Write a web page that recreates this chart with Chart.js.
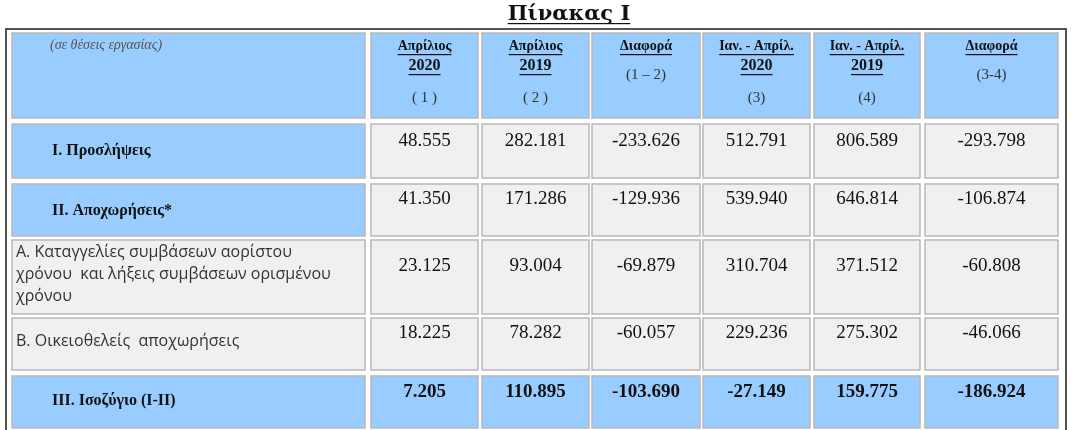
<!DOCTYPE html>
<html><head><meta charset="utf-8">
<script src="https://cdn.jsdelivr.net/npm/chart.js@4"></script>
<style>body{margin:0;background:#fff}#wrap{width:1080px;height:430px}</style>
</head><body><div id="wrap"><canvas id="myChart"></canvas></div>
<script>
var title = 'Πίνακας Ι';
var unitLabel = '(σε θέσεις εργασίας)';
var colHeads = [
    ['Απρίλιος', '2020', '( 1 )'],
    ['Απρίλιος', '2019', '( 2 )'],
    ['Διαφορά', '', '(1 – 2)'],
    ['Ιαν. - Απρίλ.', '2020', '(3)'],
    ['Ιαν. - Απρίλ.', '2019', '(4)'],
    ['Διαφορά', '', '(3-4)']
];
var rowLabels = [
    ['I. Προσλήψεις'],
    ['II. Αποχωρήσεις*'],
    ['Α. Καταγγελίες συμβάσεων αορίστου', 'χρόνου  και λήξεις συμβάσεων ορισμένου', 'χρόνου'],
    ['Β. Οικειοθελείς  αποχωρήσεις'],
    ['III. Ισοζύγιο (I-II)']
];
var apr2020 = ['48.555', '41.350', '23.125', '18.225', '7.205'];
var apr2019 = ['282.181', '171.286', '93.004', '78.282', '110.895'];
var diffApr = ['-233.626', '-129.936', '-69.879', '-60.057', '-103.690'];
var janApr2020 = ['512.791', '539.940', '310.704', '229.236', '-27.149'];
var janApr2019 = ['806.589', '646.814', '371.512', '275.302', '159.775'];
var diffJanApr = ['-293.798', '-106.874', '-60.808', '-46.066', '-186.924'];

// layout (in scale units)
var colEdges = [[12, 365], [371, 478], [482, 589], [592, 700], [703, 810], [814, 920], [925, 1058]];
var rowEdges = [[33, 118], [124, 178], [184, 236], [240, 314], [318, 370], [376, 428]];
var blue = '#99ccff', grey = '#f0f0f0';

var tablePlugin = {
    id: 'table',
    afterDraw: function (chart) {
        var ctx = chart.ctx, xs = chart.scales.x, ys = chart.scales.y;
        var cols = [apr2020, apr2019, diffApr, janApr2020, janApr2019, diffJanApr];
        function X(v) { return xs.getPixelForValue(v); }
        function Y(v) { return ys.getPixelForValue(v); }
        function text(s, x, y, font, color, align, underline) {
            ctx.font = font; ctx.fillStyle = color; ctx.textAlign = align || 'center'; ctx.textBaseline = 'middle';
            ctx.fillText(s, x, y);
            if (underline) {
                var w = ctx.measureText(s).width, x0 = align === 'left' ? x : x - w / 2;
                ctx.fillRect(x0, y + 8, w, 1.2);
            }
        }
        ctx.save();
        // outer frame
        ctx.strokeStyle = '#555'; ctx.lineWidth = 2;
        ctx.strokeRect(X(6), Y(29), X(1066) - X(6), Y(432) - Y(29));
        // cells
        rowEdges.forEach(function (r, ri) {
            colEdges.forEach(function (c, ci) {
                var fill = grey;
                if (ri === 0 || ri === 5 || (ci === 0 && ri < 3 && ri > 0)) fill = blue;
                ctx.fillStyle = fill;
                ctx.fillRect(X(c[0]), Y(r[0]), X(c[1]) - X(c[0]), Y(r[1]) - Y(r[0]));
                ctx.strokeStyle = '#b8b8b8'; ctx.lineWidth = 1.5;
                ctx.strokeRect(X(c[0]), Y(r[0]), X(c[1]) - X(c[0]), Y(r[1]) - Y(r[0]));
            });
        });
        // title
        text(title, X(569), Y(15), 'bold 21px "DejaVu Serif", serif', '#111', 'center', true);
        // header
        text(unitLabel, X(50), Y(45), 'italic 14px "Liberation Serif", serif', '#555', 'left');
        colHeads.forEach(function (h, i) {
            var cx = X((colEdges[i + 1][0] + colEdges[i + 1][1]) / 2);
            text(h[0], cx, Y(46), 'bold 14px "Liberation Serif", serif', '#111', 'center', true);
            if (h[1]) {
                text(h[1], cx, Y(66), 'bold 16px "Liberation Serif", serif', '#111', 'center', true);
                text(h[2], cx, Y(98), '15px "Liberation Serif", serif', '#333');
            } else {
                text(h[2], cx, Y(75), '15px "Liberation Serif", serif', '#333');
            }
        });
        // rows
        var labelY = [[151], [211], [252, 274, 296], [341], [401]];
        var numY = [141, 199, 266, 333, 392];
        rowLabels.forEach(function (lab, ri) {
            var plain = ri === 2 || ri === 3;
            lab.forEach(function (s, li) {
                if (plain) text(s, X(16), Y(labelY[ri][li]), '16px "Open Sans", sans-serif', '#333', 'left');
                else text(s, X(52), Y(labelY[ri][li]), 'bold 16px "Liberation Serif", serif', '#111', 'left');
            });
            cols.forEach(function (vals, ci) {
                var cx = X((colEdges[ci + 1][0] + colEdges[ci + 1][1]) / 2);
                text(vals[ri], cx, Y(numY[ri]), (ri === 4 ? 'bold ' : '') + '19px "Liberation Serif", serif', '#111');
            });
        });
        ctx.restore();
    }
};

new Chart('myChart', {
    type: 'scatter',
    data: { datasets: [{ data: [] }] },
    options: {
        responsive: true,
        maintainAspectRatio: false,
        animation: false,
        layout: { padding: 0 },
        plugins: { legend: { display: false }, tooltip: { enabled: false } },
        scales: {
            x: { type: 'linear', min: 0, max: 1080, display: false },
            y: { type: 'linear', min: 0, max: 430, reverse: true, display: false }
        }
    },
    plugins: [tablePlugin]
});
</script>
</body></html>
